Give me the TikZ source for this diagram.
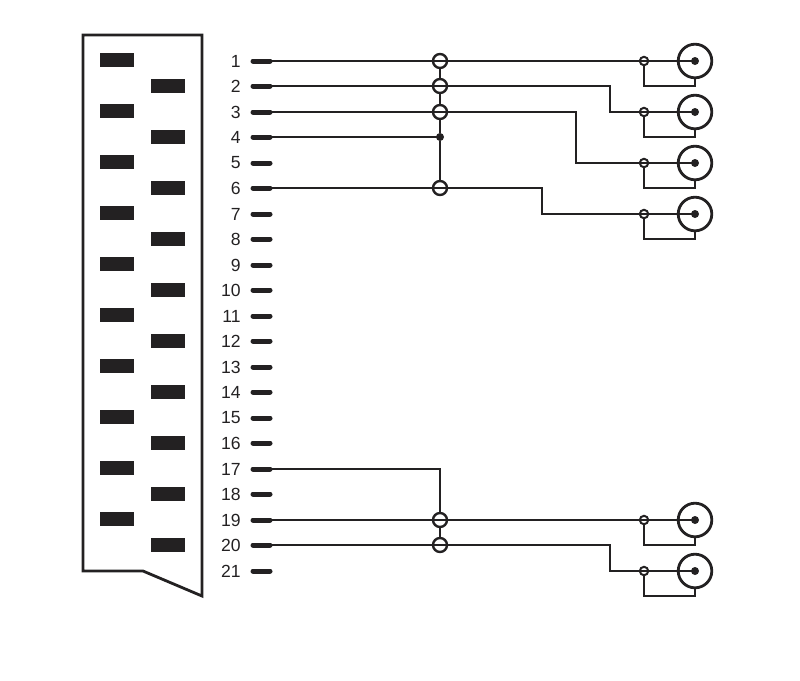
\documentclass[tikz,border=0pt]{standalone}
\usepackage{fontspec}
\setmainfont{Liberation Sans}
\usepackage{xcolor}
\definecolor{inkdark}{RGB}{35,33,34}
\tikzset{
  wire/.style={line width=0.07cm,color=inkdark},
  stub/.style={line width=0.125cm,color=inkdark,line cap=round},
  pad/.style={rectangle,fill=inkdark,minimum width=0.85cm,minimum height=0.35cm,inner sep=0pt},
  pinlabel/.style={anchor=east,inner sep=0pt,text=inkdark,font=\fontsize{12.5pt}{12.5pt}\selectfont},
  joint/.style={circle,draw=inkdark,line width=0.06cm,minimum size=0.35cm,inner sep=0pt},
  dotjoint/.style={circle,fill=inkdark,minimum size=0.2cm,inner sep=0pt},
  tap/.style={circle,draw=inkdark,line width=0.05cm,minimum size=0.21cm,inner sep=0pt},
  socket/.style={circle,draw=inkdark,line width=0.07cm,minimum size=0.84cm,inner sep=0pt},
  core/.style={circle,fill=inkdark,minimum size=0.2cm,inner sep=0pt}
}
\begin{document}
\begin{tikzpicture}[x=0.025cm,y=-0.025cm]
\useasboundingbox (0,0) rectangle (800,680);

% Connector body
\draw[wire,line join=miter] (83,35) -- (202,35) -- (202,596) -- (143,571) -- (83,571) -- cycle;

% Contact pads
\foreach \n/\y in {1/60,3/111,5/162,7/213,9/264,11/315,13/366,15/417,17/468,19/519}
    \node[pad] (pad\n) at (117,\y) {};
\foreach \n/\y in {2/86,4/137,6/188,8/239,10/290,12/341,14/392,16/443,18/494,20/545}
    \node[pad] (pad\n) at (168,\y) {};

% Pins
\foreach \n/\py in {1/61,2/86,3/112,4/137,5/163,6/188,7/214,8/239,9/265,10/290,11/316,
    12/341,13/367,14/392,15/418,16/443,17/469,18/494,19/520,20/545,21/571} {
    \node[pinlabel] (lab\n) at (241,\py) {\n};
    \coordinate (a\n) at (253,\py);
    \coordinate (p\n) at (270,\py);
    \draw[stub] (a\n) -- (p\n);
}

% Joints
\node[joint] (j1) at (440,61) {};
\node[joint] (j2) at (440,86) {};
\node[joint] (j3) at (440,112) {};
\node[dotjoint] (j4) at (440,137) {};
\node[joint] (j6) at (440,188) {};
\node[joint] (j19) at (440,520) {};
\node[joint] (j20) at (440,545) {};
\coordinate (c17) at (440,469);

% Sockets
\foreach \s/\y in {a/61,b/112,c/163,d/214,e/520,f/571} {
    \node[tap] (t\s) at (644,\y) {};
    \node[socket] (s\s) at (695,\y) {};
    \node[core] (k\s) at (695,\y) {};
    \coordinate (g\s) at (644,\y+25);
    \draw[wire] (t\s.center) -- (k\s.center);
    \draw[wire] (t\s.south) -- (g\s) -| (s\s.south);
}

% Bends
\coordinate (bend2) at (610,86);
\coordinate (bend3) at (576,112);
\coordinate (bend6) at (542,188);
\coordinate (bend20) at (610,545);

% Wires
\draw[wire] (p1) -- (ta.center);
\draw[wire] (p2) -- (bend2) |- (tb.center);
\draw[wire] (p3) -- (bend3) |- (tc.center);
\draw[wire] (p4) -- (j4.center);
\draw[wire] (p6) -- (bend6) |- (td.center);
\draw[wire] (p17) -- (c17) -- (j19.north);
\draw[wire] (p19) -- (te.center);
\draw[wire] (p20) -- (bend20) |- (tf.center);

% Links between joints
\draw[wire] (j1) -- (j2);
\draw[wire] (j2) -- (j3);
\draw[wire] (j3) -- (j4);
\draw[wire] (j4) -- (j6);
\draw[wire] (j19) -- (j20);
\end{tikzpicture}
\end{document}
